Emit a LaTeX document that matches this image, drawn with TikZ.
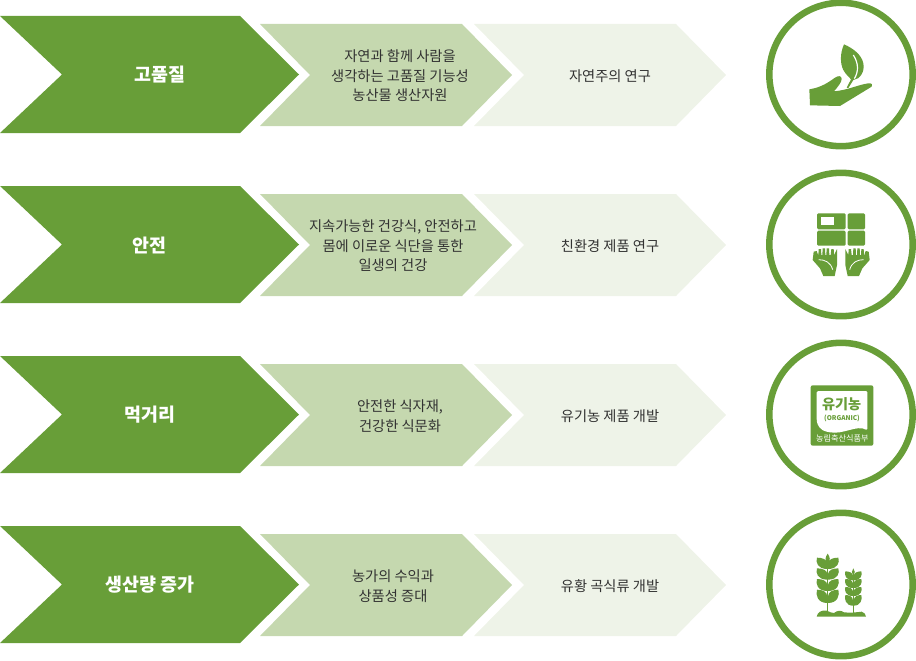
\documentclass[tikz,border=0pt]{standalone}
\usepackage{fontspec}
\setmainfont{Noto Sans CJK KR}
\definecolor{gdark}{RGB}{104,158,56}
\definecolor{gmid}{RGB}{197,216,175}
\definecolor{glight}{RGB}{238,243,232}
\definecolor{txt}{RGB}{50,50,50}
\tikzset{
  chevdark/.style={fill=gdark,draw=none},
  chevmid/.style={fill=gmid,draw=none},
  chevlight/.style={fill=glight,draw=none},
  titletext/.style={text=white,font=\fontsize{13.8}{16}\selectfont\bfseries,align=center,inner sep=0pt},
  bodytext/.style={text=txt,font=\fontsize{10.7}{14.8}\selectfont,align=center,inner sep=0pt},
  ring/.style={draw=gdark,line width=4.9pt,fill=white},
  ico/.style={fill=gdark,draw=none},
  icowhite/.style={fill=white,draw=none},
}
\newcommand{\chevrow}[7]{%
  \begin{scope}[shift={(0,#2)}]
    \fill[chevdark] (0,16) -- (240,16) -- (299,74.5) -- (240,133) -- (0,133) -- (62,74.5) -- cycle;
    \fill[chevmid] (260,24) -- (462,24) -- (512,75) -- (462,126) -- (260,126) -- (310,75) -- cycle;
    \fill[chevlight] (474,24) -- (676,24) -- (726,75) -- (676,126) -- (474,126) -- (524,75) -- cycle;
    \node[titletext] (#1t) at (#4,75) {#3};
    \node[bodytext] (#1m) at (#6,75.8) {#5};
    \node[bodytext] (#1l) at (610,75.8) {#7};
    \draw[ring] (841,74.5) circle[radius=71.7];
  \end{scope}}
\newcommand{\wheatpair}[4]{% x, top y, half width, height
  \fill[ico] (#1-1,#2+#4) .. controls (#1-#3*0.95,#2+#4*1.0) and (#1-#3*1.15,#2+#4*0.4) .. (#1-#3,#2)
    .. controls (#1-#3*0.5,#2+#4*0.0) and (#1-2,#2+#4*0.15) .. (#1-1,#2+#4*0.5) -- cycle;
  \fill[ico] (#1+1,#2+#4) .. controls (#1+#3*0.95,#2+#4*1.0) and (#1+#3*1.15,#2+#4*0.4) .. (#1+#3,#2)
    .. controls (#1+#3*0.5,#2+#4*0.0) and (#1+2,#2+#4*0.15) .. (#1+1,#2+#4*0.5) -- cycle;}
\begin{document}
\begin{tikzpicture}[x=0.75pt,y=-0.75pt]
\useasboundingbox (0,0) rectangle (916,660);
\chevrow{a}{0}{고품질}{160}{자연과 함께 사람을\\생각하는 고품질 기능성\\농산물 생산자원}{400}{자연주의 연구}
\chevrow{b}{170}{안전}{149}{지속가능한 건강식, 안전하고\\몸에 이로운 식단을 통한\\일생의 건강}{393}{친환경 제품 연구}
\chevrow{c}{340}{먹거리}{150}{안전한 식자재,\\건강한 식문화}{400}{유기농 제품 개발}
\chevrow{d}{510}{생산량 증가}{150}{농가의 수익과\\상품성 증대}{393}{유황 곡식류 개발}
% icon 1: hand and leaf
\begin{scope}[shift={(760,0)},x=0.25pt,y=-0.25pt]
  \fill[ico] (148,268) -- (150,316) -- (240,318) -- (335,260)
    .. controls (340,254) and (335,249) .. (325,250)
    .. controls (295,254) and (265,270) .. (222,274)
    .. controls (232,262) and (246,246) .. (245,236)
    .. controls (243,226) and (235,227) .. (225,233)
    .. controls (205,247) and (185,262) .. (148,268) -- cycle;
  \fill[ico] (252,133) .. controls (240,160) and (240,190) .. (250,210)
    .. controls (256,222) and (268,232) .. (273,238)
    -- (260,263) -- (265,264) -- (280,240)
    .. controls (300,238) and (315,215) .. (310,190)
    .. controls (305,165) and (280,145) .. (252,133) -- cycle;
  \draw[white,line width=0.9pt] (280,165) .. controls (296,190) and (296,215) .. (283,236);
\end{scope}
% icon 2: box and hands
\begin{scope}[shift={(760,165)},x=0.25pt,y=-0.25pt]
  \fill[ico,rounded corners=1pt] (171,145) rectangle (257,193);
  \fill[icowhite] (182,157) rectangle (222,180);
  \fill[ico,rounded corners=1pt] (263,145) rectangle (315,193);
  \fill[ico,rounded corners=1pt] (171,197) rectangle (257,242);
  \fill[ico,rounded corners=1pt] (263,197) rectangle (315,242);
  \foreach \m/\c in {1/0,-1/487}{
    \begin{scope}[shift={(\c,0)},xscale=\m]
      \fill[ico] (158,285) -- (161,260) -- (170,258) -- (175,272) -- (176,252) -- (183,252) -- (184,270)
        -- (187,270) -- (188,250) -- (195,250) -- (196,270) -- (199,270) -- (200,250) -- (207,250) -- (208,270)
        -- (212,270) -- (214,252) -- (221,252) -- (222,270) -- (231,252) -- (231,300) -- (224,333) -- (190,333)
        -- (180,310) -- cycle;
      \draw[white,line width=0.6pt] (176,284) .. controls (195,284) and (212,292) .. (218,314);
    \end{scope}}
\end{scope}
% icon 3: organic mark
\begin{scope}[shift={(760,335)},x=0.25pt,y=-0.25pt]
  \fill[ico,rounded corners=1.5pt] (152,151) rectangle (340,332);
  \fill[icowhite,rounded corners=1pt] (170,168) -- (322,168) -- (322,286)
    .. controls (290,268) and (250,300) .. (205,291)
    .. controls (180,286) and (172,270) .. (170,255) -- cycle;
  \node[text=gdark,inner sep=0pt,font=\fontsize{10.6}{12}\selectfont\bfseries] (orgA) at (245,208) {유기농};
  \node[text=gdark,inner sep=0pt,font=\fontsize{4.9}{6}\selectfont\bfseries] (orgB) at (246,250) {(ORGANIC)};
  \node[text=white,inner sep=0pt,font=\fontsize{6.1}{7}\selectfont] (orgC) at (247,310) {농림축산식품부};
\end{scope}
% icon 4: wheat
\begin{scope}[shift={(760,505)},x=0.25pt,y=-0.25pt]
  \draw[gdark,line width=0.7pt] (203,170) -- (203,325);
  \draw[gdark,line width=0.7pt] (280,205) -- (280,325);
  \fill[ico] (203,146) .. controls (196,156) and (194,165) .. (201,176) -- (205,176) .. controls (212,165) and (210,156) .. (203,146) -- cycle;
  \wheatpair{203}{158}{32}{34}
  \wheatpair{203}{190}{32}{34}
  \wheatpair{203}{222}{32}{36}
  \wheatpair{203}{254}{32}{40}
  \fill[ico] (280,190) .. controls (275,197) and (274,204) .. (279,212) -- (281,212) .. controls (286,204) and (285,197) .. (280,190) -- cycle;
  \wheatpair{280}{199}{24}{27}
  \wheatpair{280}{222}{24}{27}
  \wheatpair{280}{246}{24}{27}
  \wheatpair{280}{270}{24}{32}
  \fill[ico] (170,335) .. controls (172,322) and (185,314) .. (200,317)
    .. controls (210,320) and (215,325) .. (222,324)
    .. controls (232,316) and (242,315) .. (252,322)
    .. controls (270,324) and (290,322) .. (305,320)
    .. controls (312,322) and (318,328) .. (318,335) -- cycle;
\end{scope}
\end{tikzpicture}
\end{document}
